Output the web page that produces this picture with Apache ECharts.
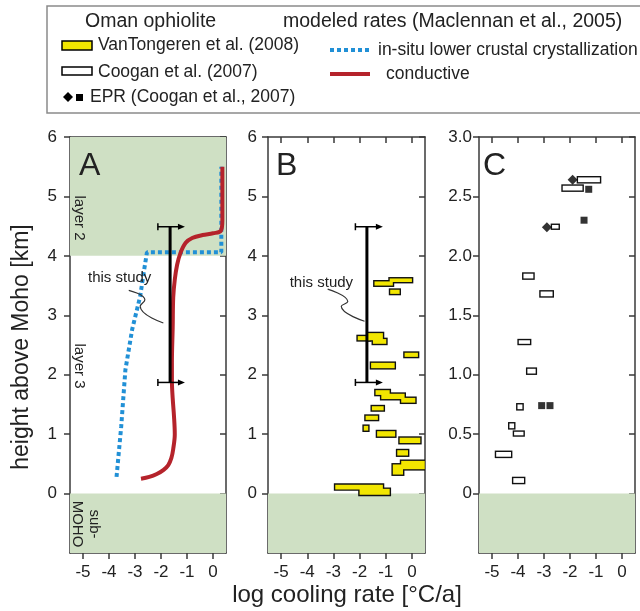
<!DOCTYPE html>
<html>
<head>
<meta charset="utf-8">
<script src="https://cdn.jsdelivr.net/npm/echarts@6/dist/echarts.min.js"></script>
<style>
  html, body { margin: 0; padding: 0; background: #fff; }
  #chart { width: 640px; height: 611px; }
</style>
</head>
<body>
<div id="chart"></div>
<script>
// ---- axis ticks ----
const xTicks = [-5, -4, -3, -2, -1, 0];
const yTicksAB = [0, 1, 2, 3, 4, 5, 6];
const yTicksC = [0, 0.5, 1, 1.5, 2, 2.5, 3];

// ---- panel A: modeled cooling-rate profiles [log rate, height km] ----
const conductive = [
  [-2.77, 0.25], [-2.45, 0.28], [-2.16, 0.33], [-1.90, 0.40], [-1.72, 0.48],
  [-1.60, 0.60], [-1.53, 0.75], [-1.47, 1.00], [-1.50, 1.30], [-1.55, 1.60],
  [-1.58, 1.90], [-1.58, 2.20], [-1.55, 2.80], [-1.53, 3.30], [-1.47, 3.60],
  [-1.38, 3.85], [-1.25, 4.05], [-1.05, 4.22], [-0.80, 4.30], [-0.40, 4.35],
  [0.00, 4.38], [0.30, 4.42], [0.36, 4.60], [0.36, 5.50]
];
const insituCryst = [
  [-3.71, 0.28], [-3.53, 1.13], [-3.37, 2.08], [-3.11, 2.76], [-2.80, 3.32],
  [-2.65, 3.76], [-2.54, 4.06], [0.32, 4.06], [0.32, 5.50]
];

// "this study" range: [x, yLow, yHigh, capLeft, capRight]
const thisStudyA = [[-1.65, 1.87, 4.49, -2.12, -1.08]];
const thisStudyB = [[-1.72, 1.87, 4.49, -2.16, -1.11]];

// label position and leader line for "this study"
const studyLabelA = [[-3.59, 3.63]];
const studyLeaderA = [[-3.24, 3.42], [-2.62, 3.26], [-2.80, 3.15], [-1.91, 2.87]];
const studyLabelB = [[-3.46, 3.55]];
const studyLeaderB = [[-3.22, 3.44], [-2.45, 3.23], [-2.70, 3.15], [-1.81, 2.90]];

// ---- panel B: VanTongeren et al. (2008) [xMin, xMax, yMin, yMax] ----
const vanTongeren = [
  [-0.85, 0.00, 3.56, 3.62],
  [-1.43, -0.73, 3.50, 3.57],
  [-0.83, -0.47, 3.36, 3.43],
  [-2.07, -1.62, 2.58, 2.65],
  [-1.69, -1.11, 2.58, 2.70],
  [-1.49, -0.98, 2.52, 2.60],
  [-0.28, 0.23, 2.30, 2.37],
  [-1.56, -0.66, 2.11, 2.20],
  [-1.39, -0.85, 1.66, 1.74],
  [-1.17, -0.28, 1.59, 1.68],
  [-0.41, 0.13, 1.53, 1.61],
  [-1.53, -1.08, 1.40, 1.47],
  [-1.77, -1.30, 1.24, 1.31],
  [-1.84, -1.67, 1.06, 1.14],
  [-1.33, -0.64, 0.96, 1.05],
  [-0.47, 0.32, 0.85, 0.94],
  [-0.56, -0.15, 0.64, 0.73],
  [-0.41, 0.49, 0.41, 0.55],
  [-0.73, -0.34, 0.32, 0.49],
  [-2.93, -1.11, 0.07, 0.15],
  [-2.00, -0.85, -0.02, 0.08]
];

// ---- panel C: Coogan et al. (2007) [xMin, xMax, yMin, yMax] ----
const cooganRanges = [
  [-1.69, -0.85, 2.62, 2.66],
  [-2.28, -1.52, 2.55, 2.59],
  [-2.69, -2.44, 2.23, 2.26],
  [-3.79, -3.41, 1.81, 1.85],
  [-3.13, -2.67, 1.66, 1.70],
  [-3.97, -3.54, 1.26, 1.29],
  [-3.64, -3.32, 1.01, 1.05],
  [-4.02, -3.83, 0.71, 0.75],
  [-4.33, -4.15, 0.55, 0.59],
  [-4.15, -3.79, 0.49, 0.52],
  [-4.84, -4.27, 0.31, 0.35],
  [-4.18, -3.77, 0.09, 0.13]
];
// EPR (Coogan et al., 2007)
const eprDiamonds = [[-1.90, 2.64], [-2.89, 2.24]];
const eprSquares = [[-1.28, 2.56], [-1.46, 2.30], [-3.09, 0.74], [-2.77, 0.74]];

// ---- shaded layers [yMin, yMax] ----
const shadeA = [[4, 6], [-1, 0]];
const shadeB = [[-1, 0]];
const shadeC = [[-0.5, 0]];

const FONT = "'Liberation Sans', Arial, Helvetica, sans-serif";
const INK = '#222';
const FRAME = '#3a3a3a';
const GREEN = '#cfe0c4';
const YELLOW = '#f2e600';
const RED = '#b5232b';
const BLUE = '#2190d6';

const grids = [
  { left: 70, top: 137, width: 156, height: 416 },
  { left: 268, top: 137, width: 157, height: 416 },
  { left: 479, top: 137, width: 156, height: 416 }
];

const yRanges = [[-1, 6], [-1, 6], [-0.5, 3]];
const yTickSets = [yTicksAB, yTicksAB, yTicksC];
const yLabelMargin = [13, 11, 7];

const xAxes = [], yAxes = [];
grids.forEach((g, i) => {
  const lineStyle = { color: FRAME, width: 1.5 };
  xAxes.push({
    type: 'value', gridIndex: i, position: 'bottom', min: -5.5, max: 0.5,
    axisLine: { show: true, onZero: false, lineStyle },
    axisTick: { show: true, inside: false, length: 6, customValues: xTicks, lineStyle },
    axisLabel: { customValues: xTicks, fontSize: 17, color: INK, fontFamily: FONT, margin: 11 },
    splitLine: { show: false }
  });
  xAxes.push({
    type: 'value', gridIndex: i, position: 'top', min: -5.5, max: 0.5,
    axisLine: { show: true, onZero: false, lineStyle },
    axisTick: { show: true, inside: true, length: 6, customValues: xTicks, lineStyle },
    axisLabel: { show: false },
    splitLine: { show: false }
  });
  const yt = yTickSets[i];
  yAxes.push({
    type: 'value', gridIndex: i, position: 'left', min: yRanges[i][0], max: yRanges[i][1],
    axisLine: { show: true, onZero: false, lineStyle },
    axisTick: { show: true, inside: false, length: 6, customValues: yt, lineStyle },
    axisLabel: {
      customValues: yt, fontSize: 17, color: INK, fontFamily: FONT, margin: yLabelMargin[i],
      formatter: v => (i === 2 && v !== 0) ? v.toFixed(1) : String(v)
    },
    splitLine: { show: false }
  });
  yAxes.push({
    type: 'value', gridIndex: i, position: 'right', min: yRanges[i][0], max: yRanges[i][1],
    axisLine: { show: true, onZero: false, lineStyle },
    axisTick: { show: true, inside: true, length: 6, customValues: yt, lineStyle },
    axisLabel: { show: false },
    splitLine: { show: false }
  });
});

// green band across the whole panel width
function shadeItem(params, api) {
  const cs = params.coordSys;
  const top = api.coord([0, api.value(1)])[1];
  const bot = api.coord([0, api.value(0)])[1];
  return {
    type: 'rect',
    shape: { x: cs.x, y: top, width: cs.width, height: bot - top },
    style: { fill: GREEN }
  };
}

// range boxes: black outline pass, then fill pass on top so touching boxes merge
function rangeOutline(params, api) {
  const a = api.coord([api.value(0), api.value(3)]);
  const b = api.coord([api.value(1), api.value(2)]);
  const e = 1.4;
  return {
    type: 'rect',
    shape: { x: a[0] - e, y: a[1] - e, width: b[0] - a[0] + 2 * e, height: b[1] - a[1] + 2 * e },
    style: { fill: '#111' }
  };
}
function rangeFill(color) {
  return function (params, api) {
    const a = api.coord([api.value(0), api.value(3)]);
    const b = api.coord([api.value(1), api.value(2)]);
    return {
      type: 'rect',
      shape: { x: a[0], y: a[1], width: b[0] - a[0], height: b[1] - a[1] },
      style: { fill: color }
    };
  };
}

// vertical range bar with T-cap on the left and arrow on the right
function studyBar(params, api) {
  const x = api.value(0), y0 = api.value(1), y1 = api.value(2);
  const xl = api.value(3), xr = api.value(4);
  const pT = api.coord([x, y1]), pB = api.coord([x, y0]);
  const kids = [{
    type: 'line', shape: { x1: pT[0], y1: pT[1], x2: pB[0], y2: pB[1] },
    style: { stroke: '#000', lineWidth: 3 }
  }];
  [y0, y1].forEach(y => {
    const a = api.coord([xl, y]), b = api.coord([xr, y]);
    kids.push({ type: 'line', shape: { x1: a[0], y1: a[1], x2: b[0] - 4, y2: b[1] },
      style: { stroke: '#000', lineWidth: 1.5 } });
    kids.push({ type: 'line', shape: { x1: a[0], y1: a[1] - 3.5, x2: a[0], y2: a[1] + 3.5 },
      style: { stroke: '#000', lineWidth: 1.5 } });
    kids.push({ type: 'polygon', shape: { points: [[b[0], b[1]], [b[0] - 7, b[1] - 3], [b[0] - 7, b[1] + 3]] },
      style: { fill: '#000' } });
  });
  return { type: 'group', children: kids };
}

function labelItem(text) {
  return function (params, api) {
    const p = api.coord([api.value(0), api.value(1)]);
    return {
      type: 'text', x: p[0], y: p[1],
      style: { text, fill: INK, font: '15px ' + FONT, align: 'center', verticalAlign: 'middle' }
    };
  };
}

function custom(i, data, renderItem, z, extra) {
  return Object.assign({
    type: 'custom', xAxisIndex: 2 * i, yAxisIndex: 2 * i, data, renderItem, z,
    clip: true, silent: true, animation: false
  }, extra || {});
}

const series = [
  // shading
  custom(0, shadeA, shadeItem, 1),
  custom(1, shadeB, shadeItem, 1),
  custom(2, shadeC, shadeItem, 1),
  // panel A model curves
  {
    type: 'line', xAxisIndex: 0, yAxisIndex: 0, data: insituCryst, z: 3,
    symbol: 'none', smooth: false, animation: false, silent: true,
    lineStyle: { color: BLUE, width: 4, type: [4, 3], cap: 'butt' }
  },
  {
    type: 'line', xAxisIndex: 0, yAxisIndex: 0, data: conductive, z: 4,
    symbol: 'none', smooth: 0.35, animation: false, silent: true,
    lineStyle: { color: RED, width: 4 }
  },
  // this study bars
  custom(0, thisStudyA, studyBar, 6),
  custom(1, thisStudyB, studyBar, 6),
  // labels and leaders
  custom(0, studyLabelA, labelItem('this study'), 7, { clip: false }),
  custom(1, studyLabelB, labelItem('this study'), 7, { clip: false }),
  {
    type: 'line', xAxisIndex: 0, yAxisIndex: 0, data: studyLeaderA, z: 7,
    symbol: 'none', smooth: 0.5, animation: false, silent: true,
    lineStyle: { color: '#333', width: 1.2 }
  },
  {
    type: 'line', xAxisIndex: 2, yAxisIndex: 2, data: studyLeaderB, z: 7,
    symbol: 'none', smooth: 0.5, animation: false, silent: true,
    lineStyle: { color: '#333', width: 1.2 }
  },
  // panel B ranges
  custom(1, vanTongeren, rangeOutline, 4),
  custom(1, vanTongeren, rangeFill(YELLOW), 5),
  // panel C ranges and points
  custom(2, cooganRanges, rangeOutline, 4),
  custom(2, cooganRanges, rangeFill('#fff'), 5),
  {
    type: 'scatter', xAxisIndex: 4, yAxisIndex: 4, data: eprDiamonds, z: 6,
    symbol: 'diamond', symbolSize: 10, itemStyle: { color: '#000' }, animation: false, silent: true
  },
  {
    type: 'scatter', xAxisIndex: 4, yAxisIndex: 4, data: eprSquares, z: 6,
    symbol: 'rect', symbolSize: 7, itemStyle: { color: '#000' }, animation: false, silent: true
  }
];

function txt(x, y, text, size, opts) {
  return Object.assign({
    type: 'text', x, y, z: 20,
    style: Object.assign({ text, fill: INK, font: size + 'px ' + FONT, align: 'left', verticalAlign: 'middle' }, (opts && opts.style) || {})
  }, opts && opts.rotation !== undefined ? { rotation: opts.rotation } : {});
}

const HEAD = 19.5;
const LEG = 17.5;
const graphic = [
  // legend frame
  { type: 'rect', z: 19, shape: { x: 47, y: 6, width: 600, height: 107 },
    style: { fill: 'none', stroke: '#8a8a8a', lineWidth: 1.5 } },
  txt(85, 22, 'Oman ophiolite', HEAD),
  txt(283, 22, 'modeled rates (Maclennan et al., 2005)', HEAD),
  { type: 'rect', z: 20, shape: { x: 62, y: 41, width: 30, height: 9 },
    style: { fill: YELLOW, stroke: '#000', lineWidth: 1.5 } },
  txt(98, 45, 'VanTongeren et al. (2008)', LEG),
  { type: 'rect', z: 20, shape: { x: 62, y: 67, width: 30, height: 8 },
    style: { fill: '#fff', stroke: '#000', lineWidth: 1.5 } },
  txt(98, 72, 'Coogan et al. (2007)', LEG),
  { type: 'polygon', z: 20, shape: { points: [[68, 92], [73, 97], [68, 102], [63, 97]] }, style: { fill: '#000' } },
  { type: 'rect', z: 20, shape: { x: 76, y: 94, width: 7, height: 7 }, style: { fill: '#000' } },
  txt(90, 97, 'EPR (Coogan et al., 2007)', LEG),
  { type: 'line', z: 20, shape: { x1: 330, y1: 50, x2: 370, y2: 50 },
    style: { stroke: BLUE, lineWidth: 4, lineDash: [4, 3] } },
  txt(378, 50, 'in-situ lower crustal crystallization', LEG),
  { type: 'line', z: 20, shape: { x1: 330, y1: 74, x2: 370, y2: 74 },
    style: { stroke: RED, lineWidth: 4 } },
  txt(386, 74, 'conductive', LEG),
  // panel letters
  txt(79, 166, 'A', 32),
  txt(276, 166, 'B', 32),
  txt(483, 166, 'C', 32),
  // layer labels
  txt(79, 218, 'layer 2', 15, { rotation: -Math.PI / 2, style: { align: 'center' } }),
  txt(79, 366, 'layer 3', 15, { rotation: -Math.PI / 2, style: { align: 'center' } }),
  txt(86, 524, 'sub-\nMOHO', 15, { rotation: -Math.PI / 2, style: { align: 'center', lineHeight: 17 } }),
  // axis titles
  txt(22, 347, 'height above Moho [km]', 23, { rotation: Math.PI / 2, style: { align: 'center' } }),
  txt(347, 595, 'log cooling rate [°C/a]', 24, { style: { align: 'center' } })
];

const chart = echarts.init(document.getElementById('chart'), null, { renderer: 'canvas' });
chart.setOption({
  animation: false,
  backgroundColor: '#fff',
  grid: grids,
  xAxis: xAxes,
  yAxis: yAxes,
  series,
  graphic
});
</script>
</body>
</html>
